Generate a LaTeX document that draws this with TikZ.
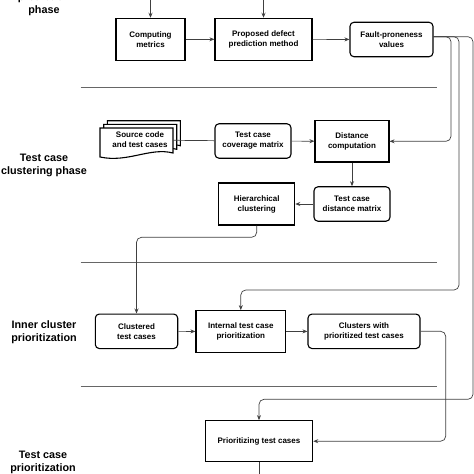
\documentclass[tikz,border=0pt]{standalone}
\usepackage{fontspec}
\setmainfont{Liberation Sans}
\usetikzlibrary{arrows.meta}
\begin{document}
\begin{tikzpicture}[x=1pt, y=-1pt,
    every node/.style={font=\bfseries\fontsize{8}{10}\selectfont, align=center, inner sep=0pt},
    box/.style={draw, line width=1.1pt, minimum height=42pt},
    rbox/.style={draw, line width=1.1pt, rounded corners=4pt, minimum height=34.5pt},
    phase/.style={font=\bfseries\fontsize{10.8}{13}\selectfont},
    flow/.style={draw=black!75, line width=0.7pt, -{Stealth[length=5pt,width=4pt]}, rounded corners=5pt},
    link/.style={draw=black!75, line width=0.7pt},
    sep/.style={draw=black!60, line width=0.7pt},
    sheet/.style={draw, line width=1.1pt, fill=white}]
    \useasboundingbox (0,0) rectangle (474,474);
    \clip (0,0) rectangle (474,474);

    \node[phase] (P1) at (44,4.5) {prediction\\ phase};
    \node[phase] (P2) at (44,165) {Test case\\ clustering phase};
    \node[phase] (P3) at (44,332) {Inner cluster\\ prioritization};
    \node[phase] (P4) at (43,462) {Test case\\ prioritization};

    \draw[sep] (80.7,87.7) -- (437,87.7);
    \draw[sep] (80.7,262.3) -- (437,262.3);
    \draw[sep] (80.7,386) -- (437,386);

    \node[box, minimum width=69pt] (cm) at (150.5,39.3) {Computing\\ metrics};
    \node[box, minimum width=97pt] (pdp) at (263.5,39.3) {Proposed defect\\ prediction method};
    \node[rbox, minimum width=83pt] (fpv) at (391.5,39.5) {Fault-proneness\\ values};
    \coordinate (cmin) at (150.5,-2);
    \coordinate (pdpin) at (263.5,-2);
    \coordinate (fpvout) at (433,36.7);
    \draw[flow] (cmin) -- (cm.north);
    \draw[flow] (pdpin) -- (pdp.north);
    \draw[flow] (cm) -- (pdp);
    \draw[flow] (pdp) -- (fpv);

    \foreach \d in {7.3,3.7,0}
        \draw[sheet, shift={(100+\d,128-\d)}] (0,0) -- (73,0) -- (73,25) .. controls (50,19) and (28,35) .. (0,29) -- cycle;
    \node[minimum width=66pt, minimum height=28pt] (src) at (140,140) {Source code\\ and test cases};
    \node[rbox, minimum width=76pt] (tcm) at (253,141) {Test case\\ coverage matrix};
    \node[box, minimum width=74pt, minimum height=41.3pt] (dc) at (352,141.3) {Distance\\ computation};
    \node[rbox, minimum width=76pt] (tdm) at (352,204) {Test case\\ distance matrix};
    \node[box, minimum width=76pt] (hc) at (256.7,204) {Hierarchical\\ clustering};
    \draw[link] (src) -- (tcm);
    \draw[flow] (tcm) -- (dc);
    \draw[flow] (fpvout) -- (451,36.7) -- (451,141.3) -- (dc.east);
    \draw[flow] (dc) -- (tdm);
    \draw[flow] (tdm) -- (hc);

    \node[rbox, minimum width=82.4pt] (ctc) at (136.5,331.3) {Clustered\\ test cases};
    \node[box, minimum width=89.7pt, minimum height=41.6pt] (itp) at (240.8,331.5) {Internal test case\\ prioritization};
    \node[rbox, minimum width=112pt] (cpt) at (364,331.3) {Clusters with\\ prioritized test cases};
    \draw[flow] (hc.south) -- (256.7,237.3) -- (136.5,237.3) -- (ctc.north);
    \draw[flow] (fpvout) -- (459,36.7) -- (459,290) -- (240.8,290) -- (itp.north);
    \draw[flow] (ctc) -- (itp);
    \draw[flow] (itp) -- (cpt);

    \node[box, minimum width=107.4pt, minimum height=41pt] (ptc) at (259,441.2) {Prioritizing test cases};
    \draw[flow] (fpvout) -- (473,36.7) -- (473,399.3) -- (259,399.3) -- (ptc.north);
    \draw[flow] (cpt.east) -- (445.7,331.3) -- (445.7,441.2) -- (ptc.east);
    \coordinate (ptcout) at (259,480);
    \draw[link] (ptc.south) -- (ptcout);
\end{tikzpicture}
\end{document}
